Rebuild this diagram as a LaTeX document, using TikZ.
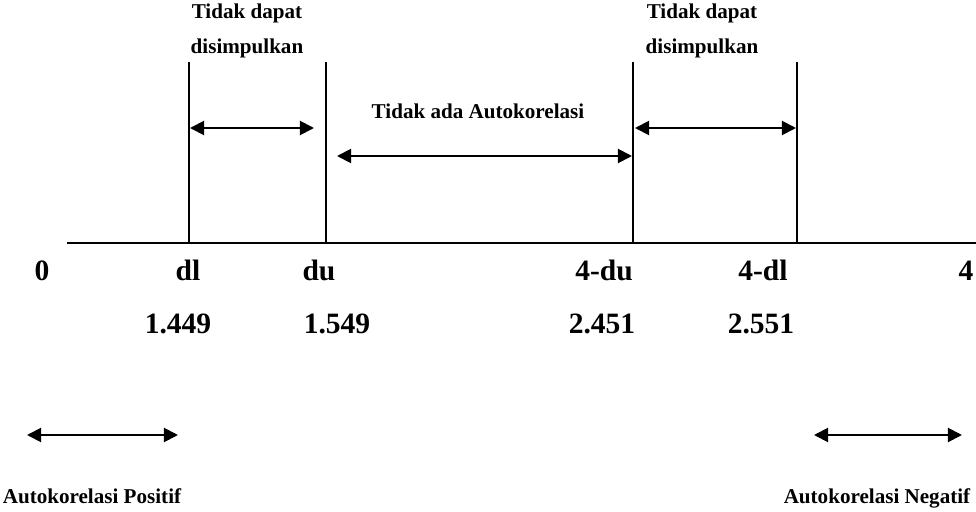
\documentclass[tikz,border=0pt]{standalone}
\usepackage{fontspec}
\setmainfont{Liberation Serif}
\usepackage{tikz}
\usetikzlibrary{arrows.meta, positioning, calc}

\begin{document}
\begin{tikzpicture}[x=0.025cm, y=-0.025cm,
  smalltxt/.style={font=\fontsize{15}{17}\selectfont\bfseries, anchor=base, inner sep=0pt},
  bigtxt/.style={font=\fontsize{21}{25}\selectfont\bfseries, anchor=base, inner sep=0pt},
  rule/.style={line width=1.4pt},
  dbl/.style={line width=1.4pt, {Triangle[length=10pt, width=10pt]}-{Triangle[length=10pt, width=10pt]}}]
  \useasboundingbox (0,0) rectangle (976,512);
  % axis and boundary lines
  \coordinate (axL) at (67,243);
  \coordinate (axR) at (976,243);
  \draw[rule] (axL) -- (axR);
  \foreach \nm/\xx in {dl/189, du/326, fdu/633, fdl/797} {
    \coordinate (\nm T) at (\xx,62);
    \coordinate (\nm B) at (\xx,243);
    \draw[rule] (\nm T) -- (\nm B);
  }
  % region labels
  \node[smalltxt] (tdL) at (247,19) {Tidak dapat};
  \node[smalltxt] (dsL) at (247,54) {disimpulkan};
  \node[smalltxt] (tdR) at (702,19) {Tidak dapat};
  \node[smalltxt] (dsR) at (702,54) {disimpulkan};
  \node[smalltxt] (noAuto) at (478,119) {Tidak ada Autokorelasi};
  % arrows between the lines
  \coordinate (a1L) at (190,128);  \coordinate (a1R) at (314,128);
  \coordinate (a2L) at (337,156);  \coordinate (a2R) at (632,156);
  \coordinate (a3L) at (635,128);  \coordinate (a3R) at (796,128);
  \draw[dbl] (a1L) -- (a1R);
  \draw[dbl] (a2L) -- (a2R);
  \draw[dbl] (a3L) -- (a3R);
  % values on the axis
  \node[bigtxt] (zero) at (42,280) {0};
  \node[bigtxt] (lblDl) at (188,280) {dl};
  \node[bigtxt] (lblDu) at (319,280) {du};
  \node[bigtxt] (lblFdu) at (604,280) {4-du};
  \node[bigtxt] (lblFdl) at (763,280) {4-dl};
  \node[bigtxt] (four) at (966,280) {4};
  \node[bigtxt] (vDl) at (178,333) {1.449};
  \node[bigtxt] (vDu) at (337,333) {1.549};
  \node[bigtxt] (vFdu) at (602,333) {2.451};
  \node[bigtxt] (vFdl) at (761,333) {2.551};
  % autocorrelation legend
  \coordinate (posL) at (27,435);  \coordinate (posR) at (178,435);
  \coordinate (negL) at (814,435); \coordinate (negR) at (962,435);
  \draw[dbl] (posL) -- (posR);
  \draw[dbl] (negL) -- (negR);
  \node[smalltxt] (pos) at (92,503) {Autokorelasi Positif};
  \node[smalltxt] (neg) at (877,503) {Autokorelasi Negatif};
\end{tikzpicture}
\end{document}
